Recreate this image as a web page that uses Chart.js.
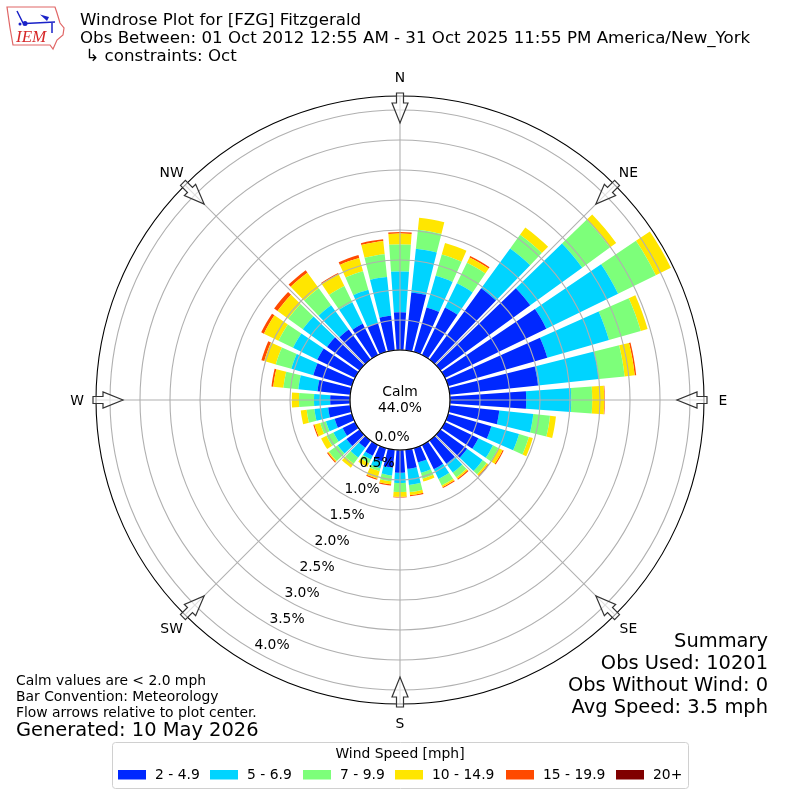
<!DOCTYPE html>
<html>
<head>
<meta charset="utf-8">
<title>Windrose Plot</title>
<script src="https://cdn.jsdelivr.net/npm/chart.js@4"></script>
<style>
  body { margin: 0; background: #fff; }
  canvas { display: block; }
</style>
</head>
<body>
<canvas id="roseChart" width="800" height="800"></canvas>
<script>
// wind direction of each bar, degrees clockwise from north
const directions = [0, 10, 20, 30, 40, 50, 60, 70, 80, 90, 100, 110, 120, 130, 140, 150, 160, 170,
  180, 190, 200, 210, 220, 230, 240, 250, 260, 270, 280, 290, 300, 310, 320, 330, 340, 350];

// percent of observations, one list per speed class
const speed2to5 = [.63, .97, .77, .88, 1.47, 1.85, 1.88, 1.72, 1.48, 1.27, .83, .75, .62, .55, .48, .45, .25, .32,
  .38, .30, .23, .20, .15, .27, .23, .30, .37, .33, .55, .67, .70, .67, .62, .58, .50, .58];
const speed5to7 = [.68, .73, .55, .45, .82, 1.07, 1.33, 1.07, 1.02, .75, .57, .48, .27, .32, .18, .18, .18, .27,
  .17, .13, .12, .07, .20, .18, .17, .15, .23, .27, .32, .38, .45, .50, .50, .40, .58, .65];
const speed7to10 = [.45, .32, .37, .38, .28, .57, .70, .55, .43, .35, .28, .17, .10, .08, .10, .12, .10, .12,
  .15, .10, .05, .07, .13, .18, .13, .10, .13, .25, .25, .27, .27, .30, .35, .30, .32, .38];
const speed10to15 = [.18, .20, .20, .10, .15, .13, .28, .12, .17, .20, .10, .07, .08, .03, .03, .03, .05, .05,
  .08, .05, .13, .07, .08, .02, .10, .10, .10, .12, .17, .20, .27, .22, .32, .22, .23, .22];
const speed15to20 = [.025, 0, 0, .025, 0, 0, 0, 0, .025, .01, 0, 0, .02, .02, .02, .02, 0, .02,
  .01, .02, .02, 0, 0, .02, 0, .02, 0, 0, .03, .05, .05, .07, .05, .02, .05, .03];
const speed20up = [0, 0, 0, 0, 0, 0, 0, 0, 0, 0, 0, 0, 0, 0, 0, 0, 0, 0,
  0, 0, 0, 0, 0, 0, 0, 0, 0, 0, 0, 0, 0, 0, 0, 0, 0, 0];

const speedLabels = ['2 - 4.9', '5 - 6.9', '7 - 9.9', '10 - 14.9', '15 - 19.9', '20+'];
const speedColors = ['#0028ff', '#00d4ff', '#7dff7a', '#ffe600', '#ff4a00', '#800000'];
const speedSeries = [speed2to5, speed5to7, speed7to10, speed10to15, speed15to20, speed20up];

const radialTicks = [0, .5, 1, 1.5, 2, 2.5, 3, 3.5, 4];
const compassLabels = ['N', 'NE', 'E', 'SE', 'S', 'SW', 'W', 'NW'];

const FONT = '"DejaVu Sans"';
const BAR_WIDTH = 8 * Math.PI / 180;

// polar area has no stacking, so each arc starts where the previous speed class ended
class StackedRoseController extends Chart.PolarAreaController {
  updateElements(arcs, start, count, mode) {
    const scale = this._cachedMeta.rScale;
    const datasets = this.chart.data.datasets;
    for (let i = start; i < start + count; i++) {
      let base = 0;
      for (let d = 0; d < this.index; d++) base += datasets[d].data[i];
      const value = datasets[this.index].data[i];
      const angle = scale.getIndexAngle(i) - Math.PI / 2;
      this.updateElement(arcs[i], i, {
        x: scale.xCenter,
        y: scale.yCenter,
        innerRadius: scale.getDistanceFromCenterForValue(base),
        outerRadius: scale.getDistanceFromCenterForValue(base + value),
        startAngle: angle - BAR_WIDTH / 2,
        endAngle: angle + BAR_WIDTH / 2,
        circumference: BAR_WIDTH,
        options: this.resolveDataElementOptions(i, mode)
      }, mode);
    }
  }
}
StackedRoseController.id = 'stackedRose';
StackedRoseController.defaults = Chart.PolarAreaController.defaults;
Chart.register(StackedRoseController);

function text(ctx, str, x, y, size, align, color) {
  ctx.font = size + 'px ' + FONT;
  ctx.textAlign = align || 'left';
  ctx.textBaseline = 'middle';
  ctx.fillStyle = color || '#000';
  ctx.fillText(str, x, y);
}

function drawArrow(ctx, cx, cy, angle, r) {
  ctx.save();
  ctx.translate(cx, cy);
  ctx.rotate(angle);
  ctx.beginPath();
  ctx.moveTo(r + 3, -3.5);
  ctx.lineTo(r - 7, -3.5);
  ctx.lineTo(r - 7, -8);
  ctx.lineTo(r - 27, 0);
  ctx.lineTo(r - 7, 8);
  ctx.lineTo(r - 7, 3.5);
  ctx.lineTo(r + 3, 3.5);
  ctx.closePath();
  ctx.fillStyle = 'rgba(255,255,255,0.6)';
  ctx.fill();
  ctx.strokeStyle = '#333';
  ctx.lineWidth = 1.2;
  ctx.stroke();
  ctx.restore();
}

function drawLogo(ctx) {
  ctx.save();
  ctx.beginPath();
  ctx.moveTo(7, 7); ctx.lineTo(55, 7); ctx.lineTo(57, 13); ctx.lineTo(60, 23); ctx.lineTo(64, 28);
  ctx.lineTo(63, 35); ctx.lineTo(57, 40); ctx.lineTo(53, 49); ctx.lineTo(50, 45); ctx.lineTo(13, 45);
  ctx.lineTo(10, 28); ctx.closePath();
  ctx.strokeStyle = '#e06666';
  ctx.lineWidth = 1.2;
  ctx.stroke();
  ctx.strokeStyle = '#1a22c8';
  ctx.fillStyle = '#1a22c8';
  ctx.lineWidth = 1.5;
  ctx.beginPath();
  ctx.moveTo(25, 23.5); ctx.lineTo(55, 22);
  ctx.moveTo(52, 22); ctx.lineTo(52, 33);
  ctx.moveTo(23, 23); ctx.lineTo(17, 11);
  ctx.stroke();
  ctx.beginPath();
  ctx.moveTo(40, 14.5); ctx.lineTo(49, 17); ctx.lineTo(47, 21); ctx.closePath();
  ctx.fill();
  ctx.beginPath(); ctx.arc(25, 23.5, 2.5, 0, 7); ctx.fill();
  ctx.beginPath(); ctx.arc(20, 24, 1.5, 0, 7); ctx.fill();
  ctx.restore();
  ctx.font = 'italic 17px "Liberation Serif"';
  ctx.textAlign = 'left';
  ctx.textBaseline = 'middle';
  ctx.fillStyle = '#d62728';
  ctx.fillText('IEM', 16, 38);
}

const decorations = {
  id: 'decorations',
  afterDraw(chart) {
    const ctx = chart.ctx;
    const scale = chart.scales.r;
    const cx = scale.xCenter, cy = scale.yCenter, R = scale.drawingArea;
    const inner = scale.getDistanceFromCenterForValue(0);

    ctx.save();
    // spokes every 45 degrees, hole edge and outer edge
    ctx.strokeStyle = '#b0b0b0';
    ctx.lineWidth = 1.1;
    compassLabels.forEach((label, i) => {
      const a = i * Math.PI / 4 - Math.PI / 2;
      ctx.beginPath();
      ctx.moveTo(cx + inner * Math.cos(a), cy + inner * Math.sin(a));
      ctx.lineTo(cx + R * Math.cos(a), cy + R * Math.sin(a));
      ctx.stroke();
    });
    ctx.strokeStyle = '#000';
    ctx.beginPath(); ctx.arc(cx, cy, inner, 0, Math.PI * 2); ctx.stroke();
    ctx.beginPath(); ctx.arc(cx, cy, R, 0, Math.PI * 2); ctx.stroke();

    compassLabels.forEach((label, i) => {
      const a = i * Math.PI / 4 - Math.PI / 2;
      drawArrow(ctx, cx, cy, a, R);
      text(ctx, label, cx + (R + 19) * Math.cos(a), cy + (R + 19) * Math.sin(a) + 1.5, 13.89, 'center');
    });

    // radial labels sit along the 210 degree line
    const labelAngle = 210 * Math.PI / 180 - Math.PI / 2;
    radialTicks.forEach(v => {
      const d = scale.getDistanceFromCenterForValue(v);
      text(ctx, v.toFixed(1) + '%', cx + d * Math.cos(labelAngle) + 17, cy + d * Math.sin(labelAngle) - 6, 13.89, 'center');
    });

    text(ctx, 'Calm', cx, 392, 13.89, 'center');
    text(ctx, '44.0%', cx, 408, 13.89, 'center');

    drawLogo(ctx);
    text(ctx, 'Windrose Plot for [FZG] Fitzgerald', 80, 21, 16.67);
    text(ctx, 'Obs Between: 01 Oct 2012 12:55 AM - 31 Oct 2025 11:55 PM America/New_York', 80, 39, 16.67);
    text(ctx, ' \u21b3 constraints: Oct', 80, 57, 16.67);

    text(ctx, 'Calm values are < 2.0 mph', 16, 681, 13.89);
    text(ctx, 'Bar Convention: Meteorology', 16, 697, 13.89);
    text(ctx, 'Flow arrows relative to plot center.', 16, 713, 13.89);
    text(ctx, 'Generated: 10 May 2026', 16, 731, 19.44);

    text(ctx, 'Summary', 768, 642, 19.44, 'right');
    text(ctx, 'Obs Used: 10201', 768, 664, 19.44, 'right');
    text(ctx, 'Obs Without Wind: 0', 768, 686, 19.44, 'right');
    text(ctx, 'Avg Speed: 3.5 mph', 768, 708, 19.44, 'right');

    // legend box
    ctx.beginPath();
    ctx.roundRect(112.5, 742.5, 576, 46, 3);
    ctx.fillStyle = '#fff';
    ctx.fill();
    ctx.strokeStyle = '#d0d0d0';
    ctx.lineWidth = 1;
    ctx.stroke();
    text(ctx, 'Wind Speed [mph]', 400, 754, 13.89, 'center');
    const swatchX = [118, 210, 303, 395, 506, 616];
    speedLabels.forEach((label, i) => {
      ctx.fillStyle = speedColors[i];
      ctx.fillRect(swatchX[i], 770, 28, 9.5);
      text(ctx, label, swatchX[i] + 37, 775, 13.89);
    });
    ctx.restore();
  }
};

new Chart(document.getElementById('roseChart'), {
  type: 'stackedRose',
  data: {
    labels: directions,
    datasets: speedSeries.map((values, i) => ({
      label: speedLabels[i],
      data: values,
      backgroundColor: speedColors[i],
      borderWidth: 0
    }))
  },
  options: {
    responsive: false,
    animation: false,
    layout: { padding: 96 },
    scales: {
      r: {
        type: 'radialLinear',
        min: -50 / 60,   // leaves the calm hole in the middle
        max: 254 / 60,
        startAngle: 0,
        angleLines: { display: false },
        pointLabels: { display: false },
        ticks: { display: false },
        grid: { circular: true, color: '#b0b0b0', lineWidth: 1.1, z: 1 },
        afterBuildTicks(axis) {
          axis.ticks = radialTicks.map(v => ({ value: v }));
        }
      }
    },
    plugins: {
      legend: { display: false },
      tooltip: { enabled: false }
    }
  },
  plugins: [decorations]
});
</script>
</body>
</html>
